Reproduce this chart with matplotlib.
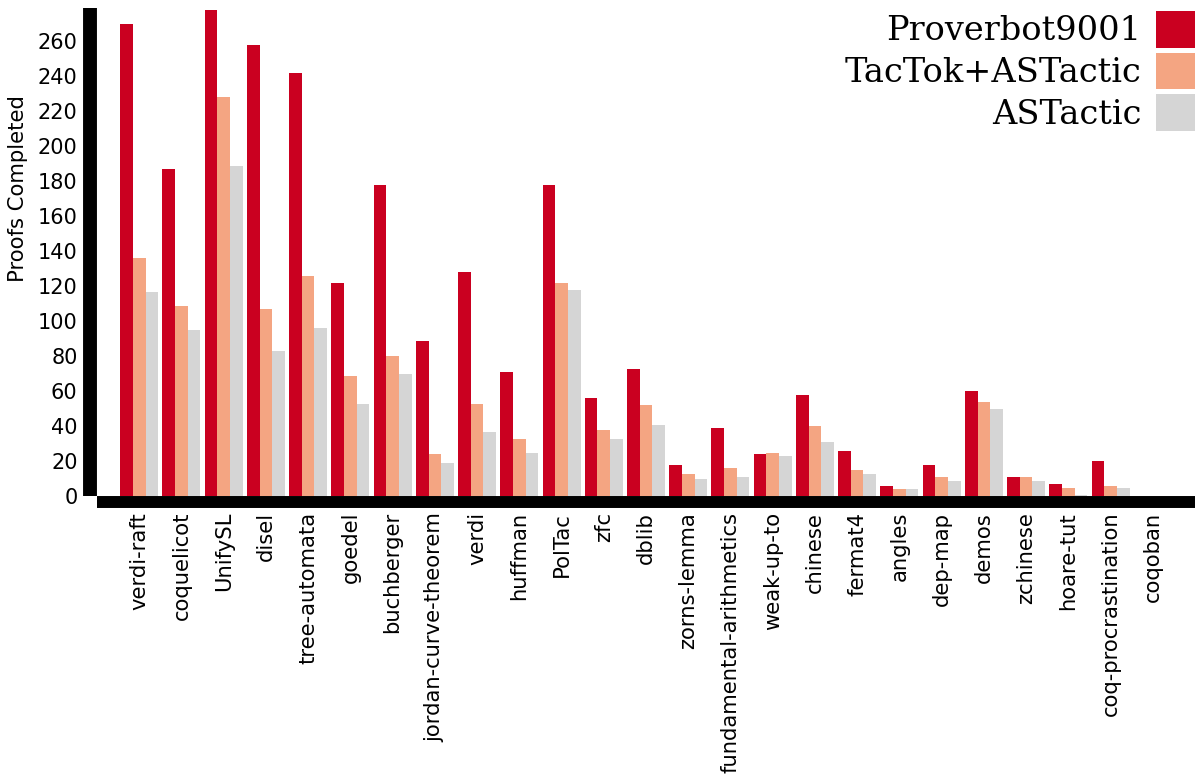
import numpy as np
import matplotlib
matplotlib.use("Agg")
import matplotlib.pyplot as plt

# per-project proof counts for the three provers
projects = ["verdi-raft", "coquelicot", "UnifySL", "disel", "tree-automata",
            "goedel", "buchberger", "jordan-curve-theorem", "verdi", "huffman",
            "PolTac", "zfc", "dblib", "zorns-lemma", "fundamental-arithmetics",
            "weak-up-to", "chinese", "fermat4", "angles", "dep-map", "demos",
            "zchinese", "hoare-tut", "coq-procrastination", "coqoban"]
proverbot = [270, 187, 278, 258, 242, 122, 178, 89, 128, 71, 178, 56, 73,
             18, 39, 24, 58, 26, 6, 18, 60, 11, 7, 20, 0]
tactok = [136, 109, 228, 107, 126, 69, 80, 24, 53, 33, 122, 38, 52,
          13, 16, 25, 40, 15, 4, 11, 54, 11, 5, 6, 0]
astactic = [117, 95, 189, 83, 96, 53, 70, 19, 37, 25, 118, 33, 41,
            10, 11, 23, 31, 13, 4, 9, 50, 9, 1, 5, 0]

series = [("Proverbot9001", proverbot, "#ca0020"),
          ("TacTok+ASTactic", tactok, "#f4a582"),
          ("ASTactic", astactic, "#d5d5d5")]

fig = plt.figure(figsize=(11.95, 7.78), dpi=100)
ax = fig.add_axes([97 / 1195, 1 - 496.5 / 778, 1 - 97 / 1195, (496.5 - 8) / 778])

x = np.arange(len(projects))
width = 0.3
for i, (name, vals, color) in enumerate(series):
    ax.bar(x + (i - 1) * width, vals, width, color=color, label=name, zorder=3)

ax.set_xlim(-1, 25)
ax.set_ylim(0, 279)
ax.set_yticks(np.arange(0, 261, 20))
ax.set_xticks(x)
ax.set_xticklabels(projects)
ax.tick_params(axis="y", labelsize=15, length=0, pad=9)
ax.tick_params(axis="x", labelsize=15.2, labelrotation=90, length=0, pad=7)
ax.set_ylabel("Proofs Completed", fontsize=15.2)
ax.yaxis.set_label_coords(-0.063, 0.63)

# heavy offset spines
for side in ["top", "right"]:
    ax.spines[side].set_visible(False)
ax.spines["left"].set_linewidth(10)
ax.spines["left"].set_position(("outward", 5))
ax.spines["bottom"].set_linewidth(8.6)
ax.spines["bottom"].set_position(("outward", 4))
ax.spines["left"].set_capstyle("butt")
ax.spines["bottom"].set_capstyle("butt")

fig.legend(loc="upper right", bbox_to_anchor=(1.0, 0.986), frameon=False,
           markerfirst=False, prop={"family": "DejaVu Serif", "size": 24.2},
           handlelength=1.15, handleheight=1.3, labelspacing=0.15,
           handletextpad=0.45, borderpad=0.0, borderaxespad=0.0)

fig.savefig("out.png", dpi=100)
